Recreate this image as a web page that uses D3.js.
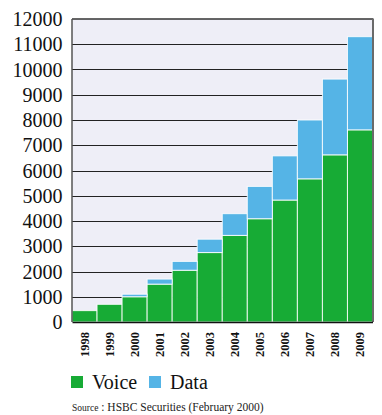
<!DOCTYPE html>
<html>
<head>
<meta charset="utf-8">
<script src="https://cdn.jsdelivr.net/npm/d3@7"></script>
<style>
  html, body { margin: 0; padding: 0; background: #ffffff; }
  svg { display: block; }
</style>
</head>
<body>
<svg id="chart" width="382" height="415"></svg>
<script>
// Mobile revenue forecast, stacked voice + data
const years = ["1998", "1999", "2000", "2001", "2002", "2003", "2004", "2005", "2006", "2007", "2008", "2009"];
const voice = [450, 700, 1000, 1500, 2050, 2750, 3430, 4090, 4830, 5670, 6620, 7610];
const data  = [0, 0, 100, 200, 350, 530, 860, 1280, 1750, 2330, 3000, 3690];
const yTicks = [0, 1000, 2000, 3000, 4000, 5000, 6000, 7000, 8000, 9000, 10000, 11000, 12000];
const seriesNames = ["Voice", "Data"];
const seriesColors = ["#17ab35", "#55b4e6"];
const sourceText = "HSBC Securities (February 2000)";

const SERIF = '"Liberation Serif", "Times New Roman", serif';
const BIG = 20;

const svg = d3.select("#chart");
const plot = { left: 72, right: 372.5, top: 19, bottom: 322 };

const x = d3.scaleBand().domain(years).range([plot.left, plot.right]).padding(0);
const y = d3.scaleLinear().domain([0, 12000]).range([plot.bottom, plot.top]);

// plot background
svg.append("rect")
  .attr("x", plot.left).attr("y", plot.top)
  .attr("width", plot.right - plot.left).attr("height", plot.bottom - plot.top)
  .attr("fill", "#eeeef7");

// horizontal gridlines
svg.append("g")
  .selectAll("line")
  .data(yTicks.filter(v => v > 0 && v < 12000))
  .join("line")
  .attr("x1", plot.left).attr("x2", plot.right)
  .attr("y1", d => Math.round(y(d)) + 0.5).attr("y2", d => Math.round(y(d)) + 0.5)
  .attr("stroke", "#222").attr("stroke-width", 1);

// stacked bars
const rows = years.map((yr, i) => ({ year: yr, Voice: voice[i], Data: data[i] }));
const stacked = d3.stack().keys(seriesNames)(rows);
const color = d3.scaleOrdinal().domain(seriesNames).range(seriesColors);

svg.append("g")
  .selectAll("g")
  .data(stacked)
  .join("g")
  .attr("fill", d => color(d.key))
  .selectAll("rect")
  .data(d => d.filter(p => p[1] > p[0]))
  .join("rect")
  .attr("x", d => x(d.data.year))
  .attr("width", x.bandwidth())
  .attr("y", d => y(d[1]))
  .attr("height", d => y(d[0]) - y(d[1]))
  .attr("stroke", "#ffffff")
  .attr("stroke-opacity", 0.85)
  .attr("stroke-width", 1);

// frame: top, left, right
svg.append("line")
  .attr("x1", plot.left).attr("x2", plot.right + 1)
  .attr("y1", plot.top).attr("y2", plot.top)
  .attr("stroke", "#333").attr("stroke-width", 1.5);
svg.append("line")
  .attr("x1", plot.left).attr("x2", plot.left)
  .attr("y1", plot.top).attr("y2", plot.bottom)
  .attr("stroke", "#555").attr("stroke-width", 1.5);
svg.append("line")
  .attr("x1", plot.right + 0.5).attr("x2", plot.right + 0.5)
  .attr("y1", plot.top).attr("y2", plot.bottom)
  .attr("stroke", "#6a6a6a").attr("stroke-width", 2);

// y axis labels
const yAxis = d3.axisLeft(y).tickValues(yTicks).tickSize(0).tickPadding(9.5).tickFormat(d3.format("d"));
const gy = svg.append("g").attr("transform", `translate(${plot.left},0)`).call(yAxis);
gy.select(".domain").remove();
gy.selectAll("text")
  .style("font-family", SERIF)
  .style("font-size", BIG + "px")
  .attr("fill", "#111")
  .attr("dy", "0.33em");

// x axis baseline and rotated year labels
const xAxis = d3.axisBottom(x).tickSize(0).tickPadding(0);
const gx = svg.append("g").attr("transform", `translate(0,${plot.bottom})`).call(xAxis);
gx.select(".domain")
  .attr("stroke", "#111").attr("stroke-width", 1.5);
gx.selectAll("text")
  .style("font-family", SERIF)
  .style("font-weight", "bold")
  .style("font-size", "12.5px")
  .attr("fill", "#111")
  .attr("text-anchor", "end")
  .attr("dy", null)
  .attr("y", 0)
  .attr("transform", "translate(4.5,10) rotate(-90)");

// legend
const legend = svg.append("g").attr("transform", "translate(71,376)");
const legendX = [0, 78];
seriesNames.forEach((name, i) => {
  const g = legend.append("g").attr("transform", `translate(${legendX[i]},0)`);
  g.append("rect").attr("width", 12).attr("height", 12).attr("fill", seriesColors[i]);
  g.append("text")
    .attr("x", 21).attr("y", 13)
    .style("font-family", SERIF)
    .style("font-size", BIG + "px")
    .attr("fill", "#111")
    .text(name);
});

// source note
const src = svg.append("text").attr("x", 72).attr("y", 411)
  .style("font-family", SERIF).attr("fill", "#222");
src.append("tspan").style("font-size", "9.5px").text("Source");
src.append("tspan").style("font-size", "11.5px").text(" : " + sourceText);
</script>
</body>
</html>
